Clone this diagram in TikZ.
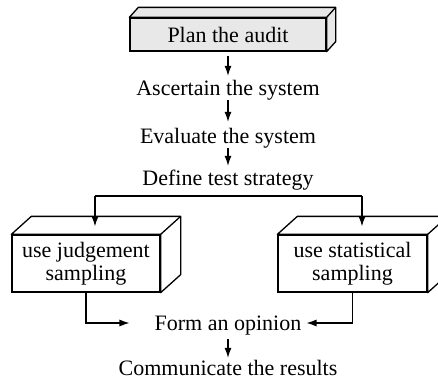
\documentclass[tikz,border=0pt]{standalone}
\usepackage{fontspec}
\setmainfont{Liberation Serif}
\usetikzlibrary{arrows.meta}
\begin{document}
\begin{tikzpicture}[x=1pt,y=-1pt,
  txt/.style={inner sep=0pt,text height=15pt,text depth=5pt,anchor=base,font=\fontsize{22}{23}\selectfont},
  front/.style={draw,line width=1.3pt,inner sep=0pt,align=center,font=\fontsize{22}{23}\selectfont},
  face/.style={draw,line width=1.3pt,line join=round},
  arr/.style={line width=1.1pt,-{Latex[length=10pt,width=7pt]}},
  conn/.style={line width=1.1pt}]
\useasboundingbox (0,0) rectangle (438,381);
% top box
\node[front,fill=black!9,minimum width=196pt,minimum height=33pt] (plan) at (228,34.5) {Plan the audit};
\draw[face,fill=black!9] (plan.north west) -- ++(9,-10) -- ([shift={(9,-10)}]plan.north east) -- ([shift={(9,-10)}]plan.south east) -- (plan.south east) -- (plan.north east) -- cycle;
\draw[face] (plan.north east) -- ++(9,-10);
% text steps
\node[txt] (asc) at (228,95) {Ascertain the system};
\node[txt] (eva) at (228,143) {Evaluate the system};
\node[txt] (def) at (228,185) {Define test strategy};
\draw[arr,shorten <=4pt,shorten >=4pt] (plan.south) -- (asc.north);
\draw[arr,shorten >=6pt] (asc.south) -- (eva.north);
\draw[arr,shorten >=4pt] (eva.south) -- (def.north);
% side boxes
\node[front,fill=white,minimum width=148pt,minimum height=57pt] (lbox) at (86,263.5) {use judgement\\sampling};
\draw[face,fill=white] (lbox.north west) -- ++(20,-18) -- ([shift={(20,-18)}]lbox.north east) -- ([shift={(20,-18)}]lbox.south east) -- (lbox.south east) -- (lbox.north east) -- cycle;
\draw[face] (lbox.north east) -- ++(20,-18);
\node[front,fill=white,minimum width=149pt,minimum height=57pt] (rbox) at (352.5,263.5) {use statistical\\sampling};
\draw[face,fill=white] (rbox.north west) -- ++(20,-18) -- ([shift={(20,-18)}]rbox.north east) -- ([shift={(20,-18)}]rbox.south east) -- (rbox.south east) -- (rbox.north east) -- cycle;
\draw[face] (rbox.north east) -- ++(20,-18);
% branch
\coordinate (jl) at (95,196);
\coordinate (jr) at (362,196);
\draw[conn] (jl) -- (jr);
\draw[arr] (jl) -- ([shift={(9,-8)}]lbox.north);
\draw[arr] (jr) -- ([shift={(9.5,-8)}]rbox.north);
% merge
\node[txt] (form) at (228,330) {Form an opinion};
\node[txt] (com) at (228,375) {Communicate the results};
\draw[arr] (lbox.south) |- ([shift={(-25,-2)}]form.west);
\draw[arr] (rbox.south) |- ([shift={(5,-2)}]form.east);
\draw[arr,shorten <=4pt,shorten >=2pt] (form.south) -- (com.north);
\end{tikzpicture}
\end{document}
